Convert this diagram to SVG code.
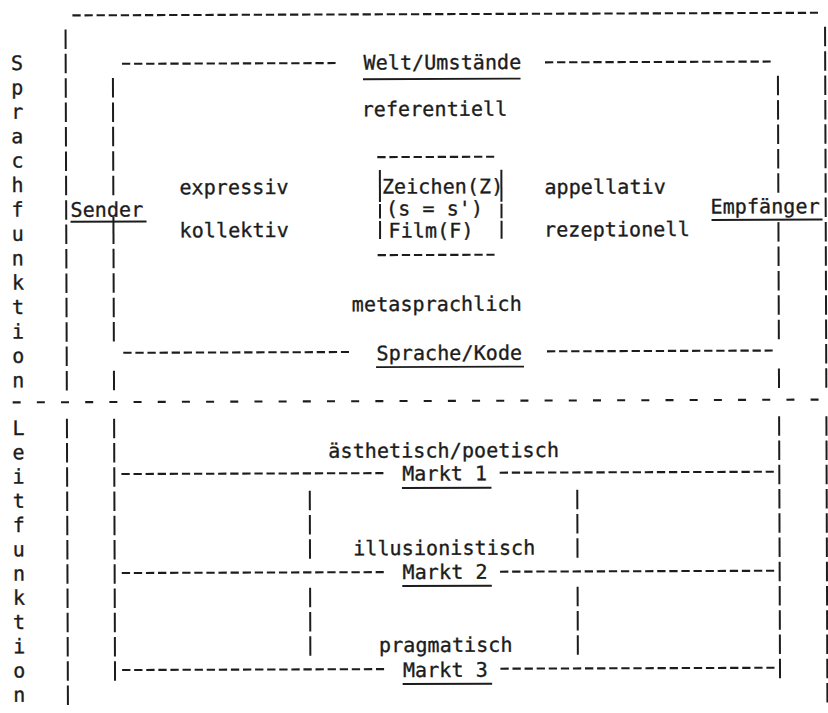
<svg xmlns="http://www.w3.org/2000/svg" width="828" height="713" viewBox="0 0 828 713">
<style>
.t{font-family:"DejaVu Sans Mono","Liberation Mono",monospace;font-size:20px;fill:#1c1c1c;stroke:#1c1c1c;stroke-width:0.35px;letter-spacing:0.1px}
.h{stroke:#1c1c1c;stroke-width:2.1;fill:none;stroke-dasharray:8.3 3.79}
.md{stroke:#1c1c1c;stroke-width:2.1;fill:none;stroke-dasharray:8 16.18}
.v1{stroke:#1c1c1c;stroke-width:2;fill:none;stroke-dasharray:19.5 4.9}
.v2{stroke:#1c1c1c;stroke-width:2;fill:none;stroke-dasharray:19.5 4.75}
.s{stroke:#1c1c1c;stroke-width:2;fill:none}
.u{stroke:#1c1c1c;stroke-width:1.9;fill:none}
</style>
<rect width="828" height="713" fill="#ffffff"/>
<g transform="rotate(-0.2 414 356)">
<g id="connectors">
  <line class="h" x1="73.6" y1="14.2" x2="819.2" y2="14.2"/>
  <line class="h" x1="123" y1="62.8" x2="336.6" y2="62.8"/>
  <line class="h" x1="546" y1="62.8" x2="771.7" y2="62.8"/>
  <line class="h" x1="123.3" y1="351.8" x2="349" y2="351.8"/>
  <line class="h" x1="547" y1="351.8" x2="772.7" y2="351.8"/>
  <line class="md" x1="12.5" y1="401" x2="818.4" y2="401"/>
  <line class="h" x1="121" y1="473" x2="383" y2="473"/>
  <line class="h" x1="499.3" y1="473" x2="773.4" y2="473"/>
  <line class="h" x1="121" y1="572" x2="383" y2="572"/>
  <line class="h" x1="499.3" y1="572" x2="773.4" y2="572"/>
  <line class="h" x1="121" y1="669" x2="383" y2="669"/>
  <line class="h" x1="499.3" y1="669" x2="773.4" y2="669"/>
  <line class="v1" x1="66.7" y1="28.2" x2="66.7" y2="389.3"/>
  <line class="v1" x1="826.2" y1="28.2" x2="826.2" y2="389.3"/>
  <line class="v1" x1="113.9" y1="77" x2="113.9" y2="194.1"/>
  <line class="s" x1="113.9" y1="216" x2="113.9" y2="242.9"/>
  <line class="v1" x1="113.9" y1="247.8" x2="113.9" y2="340.5"/>
  <line class="v1" x1="113.9" y1="369.8" x2="113.9" y2="389.3"/>
  <line class="v1" x1="778.9" y1="77" x2="778.9" y2="194.1"/>
  <line class="v1" x1="778.9" y1="223.4" x2="778.9" y2="340.5"/>
  <line class="v1" x1="778.9" y1="369.8" x2="778.9" y2="389.3"/>
  <line class="v2" x1="66.7" y1="417.6" x2="66.7" y2="703.85"/>
  <line class="v2" x1="826.2" y1="417.6" x2="826.2" y2="703.85"/>
  <line class="v2" x1="113.9" y1="417.6" x2="113.9" y2="679.6"/>
  <line class="v2" x1="778.9" y1="417.6" x2="778.9" y2="679.6"/>
  <line class="v2" x1="309.3" y1="490.35" x2="309.3" y2="558.35"/>
  <line class="v2" x1="309.3" y1="587.35" x2="309.3" y2="655.35"/>
  <line class="v2" x1="576.8" y1="490.35" x2="576.8" y2="558.35"/>
  <line class="v2" x1="576.8" y1="587.35" x2="576.8" y2="655.35"/>
</g>

<g id="side-sprachfunktion">
  <text class="t" text-anchor="middle"><tspan x="18.2" y="68.6">S</tspan><tspan x="18.2" y="93">p</tspan><tspan x="18.2" y="117.4">r</tspan><tspan x="18.2" y="141.8">a</tspan><tspan x="18.2" y="166.2">c</tspan><tspan x="18.2" y="190.6">h</tspan><tspan x="18.2" y="215">f</tspan><tspan x="18.2" y="239.4">u</tspan><tspan x="18.2" y="263.8">n</tspan><tspan x="18.2" y="288.2">k</tspan><tspan x="18.2" y="312.6">t</tspan><tspan x="18.2" y="337">i</tspan><tspan x="18.2" y="361.4">o</tspan><tspan x="18.2" y="385.8">n</tspan></text>
</g>
<g id="side-leitfunktion">
  <text class="t" text-anchor="middle"><tspan x="18.2" y="433.6">L</tspan><tspan x="18.2" y="457.85">e</tspan><tspan x="18.2" y="482.1">i</tspan><tspan x="18.2" y="506.35">t</tspan><tspan x="18.2" y="530.6">f</tspan><tspan x="18.2" y="554.85">u</tspan><tspan x="18.2" y="579.1">n</tspan><tspan x="18.2" y="603.35">k</tspan><tspan x="18.2" y="627.6">t</tspan><tspan x="18.2" y="651.85">i</tspan><tspan x="18.2" y="676.1">o</tspan><tspan x="18.2" y="700.35">n</tspan></text>
</g>

<g id="welt">
  <text class="t" x="364.5" y="69.4">Welt/Umstände</text>
  <line class="u" x1="364" y1="79" x2="521.5" y2="79"/>
</g>
<g id="referentiell"><text class="t" x="362.5" y="116">referentiell</text></g>
<g id="expressiv"><text class="t" x="180" y="193.5">expressiv</text></g>
<g id="kollektiv"><text class="t" x="180" y="236.5">kollektiv</text></g>
<g id="appellativ"><text class="t" x="545" y="194.5">appellativ</text></g>
<g id="rezeptionell"><text class="t" x="544.5" y="237">rezeptionell</text></g>

<g id="zeichen-film">
  <line class="h" x1="378" y1="157" x2="494.9" y2="157"/>
  <line class="h" x1="378" y1="255" x2="494.9" y2="255"/>
  <line class="s" x1="380.5" y1="170" x2="380.5" y2="202"/>
  <line class="s" x1="380.5" y1="204" x2="380.5" y2="218.5"/>
  <line class="s" x1="380.5" y1="221" x2="380.5" y2="239"/>
  <line class="s" x1="502" y1="170" x2="502" y2="202"/>
  <line class="s" x1="502" y1="204" x2="502" y2="218.5"/>
  <line class="s" x1="502" y1="221" x2="502" y2="239"/>
  <text class="t" x="382.5" y="193.5">Zeichen(Z)</text>
  <text class="t" x="386.5" y="215.5">(s = s')</text>
  <text class="t" x="389" y="237.5">Film(F)</text>
</g>

<g id="sender">
  <text class="t" x="71" y="215.6">Sender</text>
  <line class="u" x1="71" y1="220.6" x2="147" y2="220.6"/>
</g>
<g id="empfaenger">
  <text class="t" x="711" y="214.5">Empfänger</text>
  <line class="u" x1="712" y1="221" x2="823" y2="221"/>
</g>

<g id="metasprachlich"><text class="t" x="352" y="311">metasprachlich</text></g>
<g id="sprache">
  <text class="t" x="376.5" y="360">Sprache/Kode</text>
  <line class="u" x1="376" y1="367" x2="524" y2="367"/>
</g>

<g id="aesthetisch"><text class="t" x="328" y="457.5">ästhetisch/poetisch</text></g>
<g id="markt1">
  <text class="t" x="401.8" y="480.5">Markt 1</text>
  <line class="u" x1="401.5" y1="488" x2="491" y2="488"/>
</g>
<g id="illusionistisch"><text class="t" x="352.5" y="555">illusionistisch</text></g>
<g id="markt2">
  <text class="t" x="401.8" y="579">Markt 2</text>
  <line class="u" x1="401.5" y1="586" x2="491" y2="586"/>
</g>
<g id="pragmatisch"><text class="t" x="378" y="652">pragmatisch</text></g>
<g id="markt3">
  <text class="t" x="401.8" y="677">Markt 3</text>
  <line class="u" x1="401.5" y1="684" x2="491" y2="684"/>
</g>
</g>
</svg>
